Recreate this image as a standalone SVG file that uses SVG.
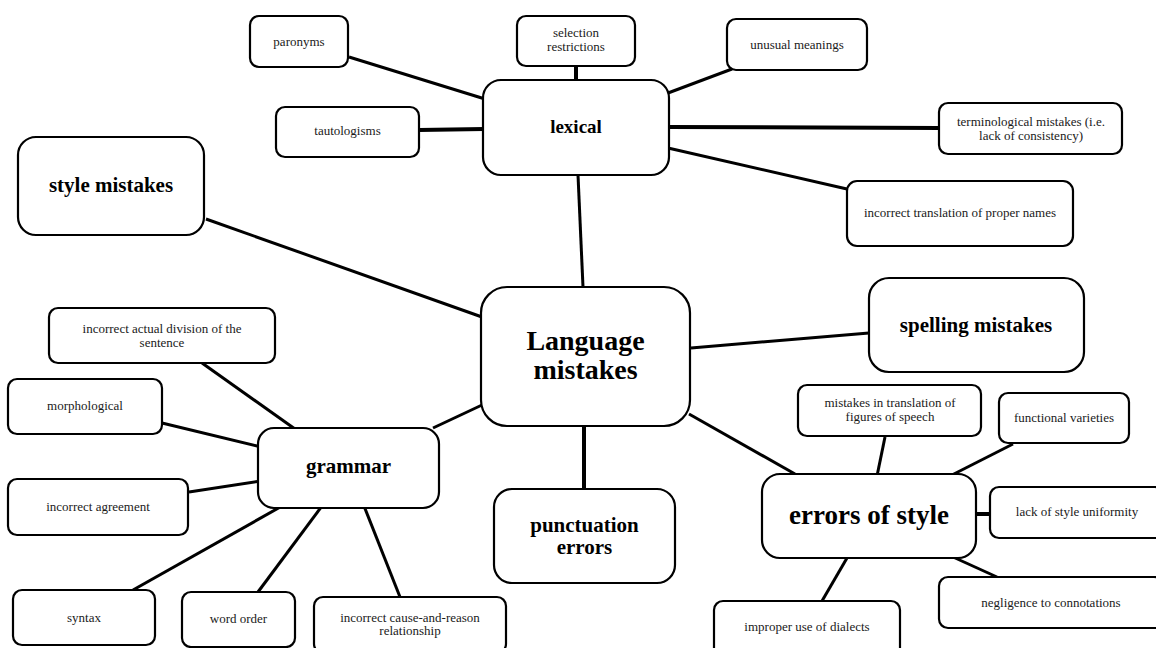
<svg xmlns="http://www.w3.org/2000/svg" width="1156" height="648" viewBox="0 0 1156 648">
<style>
.b{fill:#fff;stroke:#000;stroke-width:2.2}
.c line{stroke:#000;stroke-width:3;stroke-linecap:butt}
.c .t{stroke-width:4}
text{font-family:"Liberation Serif","Times New Roman",serif;text-anchor:middle}
.s{font-size:13px;fill:#1a1a1a}
.h{font-weight:bold;fill:#000}
</style>
<rect width="1156" height="648" fill="#fff"/>
<g id="connectors" class="c">
<line x1="349" y1="57" x2="485" y2="99"/>
<line class="t" x1="576" y1="66" x2="576" y2="80"/>
<line x1="732" y1="69" x2="668" y2="93"/>
<line class="t" x1="419" y1="130" x2="484" y2="129"/>
<line class="t" x1="939" y1="128" x2="668" y2="127"/>
<line x1="847" y1="189" x2="668" y2="148"/>
<line x1="578" y1="175" x2="583" y2="287"/>
<line x1="206" y1="219" x2="482" y2="317"/>
<line x1="691" y1="348" x2="869" y2="333"/>
<line x1="482" y1="405" x2="433" y2="428"/>
<line class="t" x1="584" y1="426" x2="584" y2="489"/>
<line x1="689" y1="414" x2="795" y2="474"/>
<line x1="202" y1="363" x2="295" y2="429"/>
<line x1="162" y1="423" x2="261" y2="447"/>
<line x1="189" y1="492" x2="261" y2="481"/>
<line x1="133" y1="590" x2="282" y2="506"/>
<line x1="258" y1="592" x2="322" y2="506"/>
<line x1="400" y1="597" x2="364" y2="506"/>
<line x1="885" y1="437" x2="877" y2="476"/>
<line x1="1013" y1="444" x2="948" y2="477"/>
<line class="t" x1="974" y1="514" x2="990" y2="514"/>
<line x1="953" y1="557" x2="997" y2="577"/>
<line x1="847" y1="558" x2="822" y2="601"/>
</g>
<g id="paronyms"><rect class="b" x="250" y="16" width="98" height="51" rx="9"/><text class="s" x="299" y="46">paronyms</text></g>
<g id="selection"><rect class="b" x="517" y="16" width="118" height="50" rx="9"/><text class="s" x="576" y="37">selection</text><text class="s" x="576" y="51">restrictions</text></g>
<g id="unusual"><rect class="b" x="727" y="19" width="140" height="51" rx="9"/><text class="s" x="797" y="49">unusual meanings</text></g>
<g id="lexical"><rect class="b" x="483" y="80" width="186" height="95" rx="18"/><text class="h" x="576" y="133" font-size="19">lexical</text></g>
<g id="tautologisms"><rect class="b" x="276" y="107" width="143" height="50" rx="9"/><text class="s" x="347.5" y="135">tautologisms</text></g>
<g id="terminological"><rect class="b" x="939" y="103" width="183" height="51" rx="9"/><text class="s" x="1031" y="126">terminological mistakes (i.e.</text><text class="s" x="1031" y="140">lack of consistency)</text></g>
<g id="propernames"><rect class="b" x="847" y="181" width="226" height="65" rx="10"/><text class="s" x="960" y="217">incorrect translation of proper names</text></g>
<g id="stylemistakes"><rect class="b" x="18" y="137" width="186" height="98" rx="18"/><text class="h" x="111" y="192" font-size="21">style mistakes</text></g>
<g id="language"><rect class="b" x="481" y="287" width="209" height="139" rx="26"/><text class="h" x="585.5" y="350" font-size="28">Language</text><text class="h" x="585.5" y="379" font-size="28">mistakes</text></g>
<g id="spelling"><rect class="b" x="869" y="278" width="215" height="94" rx="20"/><text class="h" x="976" y="332" font-size="21">spelling mistakes</text></g>
<g id="division"><rect class="b" x="49" y="308" width="226" height="55" rx="9"/><text class="s" x="162" y="333">incorrect actual division of the</text><text class="s" x="162" y="347">sentence</text></g>
<g id="morphological"><rect class="b" x="8" y="379" width="154" height="55" rx="9"/><text class="s" x="85" y="410">morphological</text></g>
<g id="grammar"><rect class="b" x="258" y="428" width="181" height="80" rx="16"/><text class="h" x="348.5" y="473" font-size="21">grammar</text></g>
<g id="agreement"><rect class="b" x="8" y="479" width="180" height="56" rx="9"/><text class="s" x="98" y="511">incorrect agreement</text></g>
<g id="figures"><rect class="b" x="798" y="385" width="183" height="51" rx="9"/><text class="s" x="890" y="407">mistakes in translation of</text><text class="s" x="890" y="421">figures of speech</text></g>
<g id="functional"><rect class="b" x="999" y="393" width="130" height="50" rx="9"/><text class="s" x="1064" y="422">functional varieties</text></g>
<g id="errorsofstyle"><rect class="b" x="762" y="474" width="214" height="84" rx="18"/><text class="h" x="869" y="524" font-size="27">errors of style</text></g>
<g id="lack"><rect class="b" x="990" y="487" width="174" height="51" rx="9"/><text class="s" x="1077" y="516">lack of style uniformity</text></g>
<g id="punctuation"><rect class="b" x="494" y="489" width="181" height="94" rx="18"/><text class="h" x="584.5" y="532" font-size="21">punctuation</text><text class="h" x="584.5" y="554" font-size="21">errors</text></g>
<g id="negligence"><rect class="b" x="939" y="577" width="224" height="51" rx="9"/><text class="s" x="1051" y="607">negligence to connotations</text></g>
<g id="improper"><rect class="b" x="714" y="601" width="186" height="56" rx="9"/><text class="s" x="807" y="631">improper use of dialects</text></g>
<g id="syntax"><rect class="b" x="13" y="590" width="142" height="55" rx="9"/><text class="s" x="84" y="622">syntax</text></g>
<g id="wordorder"><rect class="b" x="182" y="592" width="113" height="55" rx="9"/><text class="s" x="238.5" y="623">word order</text></g>
<g id="cause"><rect class="b" x="314" y="597" width="192" height="56" rx="9"/><text class="s" x="410" y="622">incorrect cause-and-reason</text><text class="s" x="410" y="635">relationship</text></g>
</svg>
